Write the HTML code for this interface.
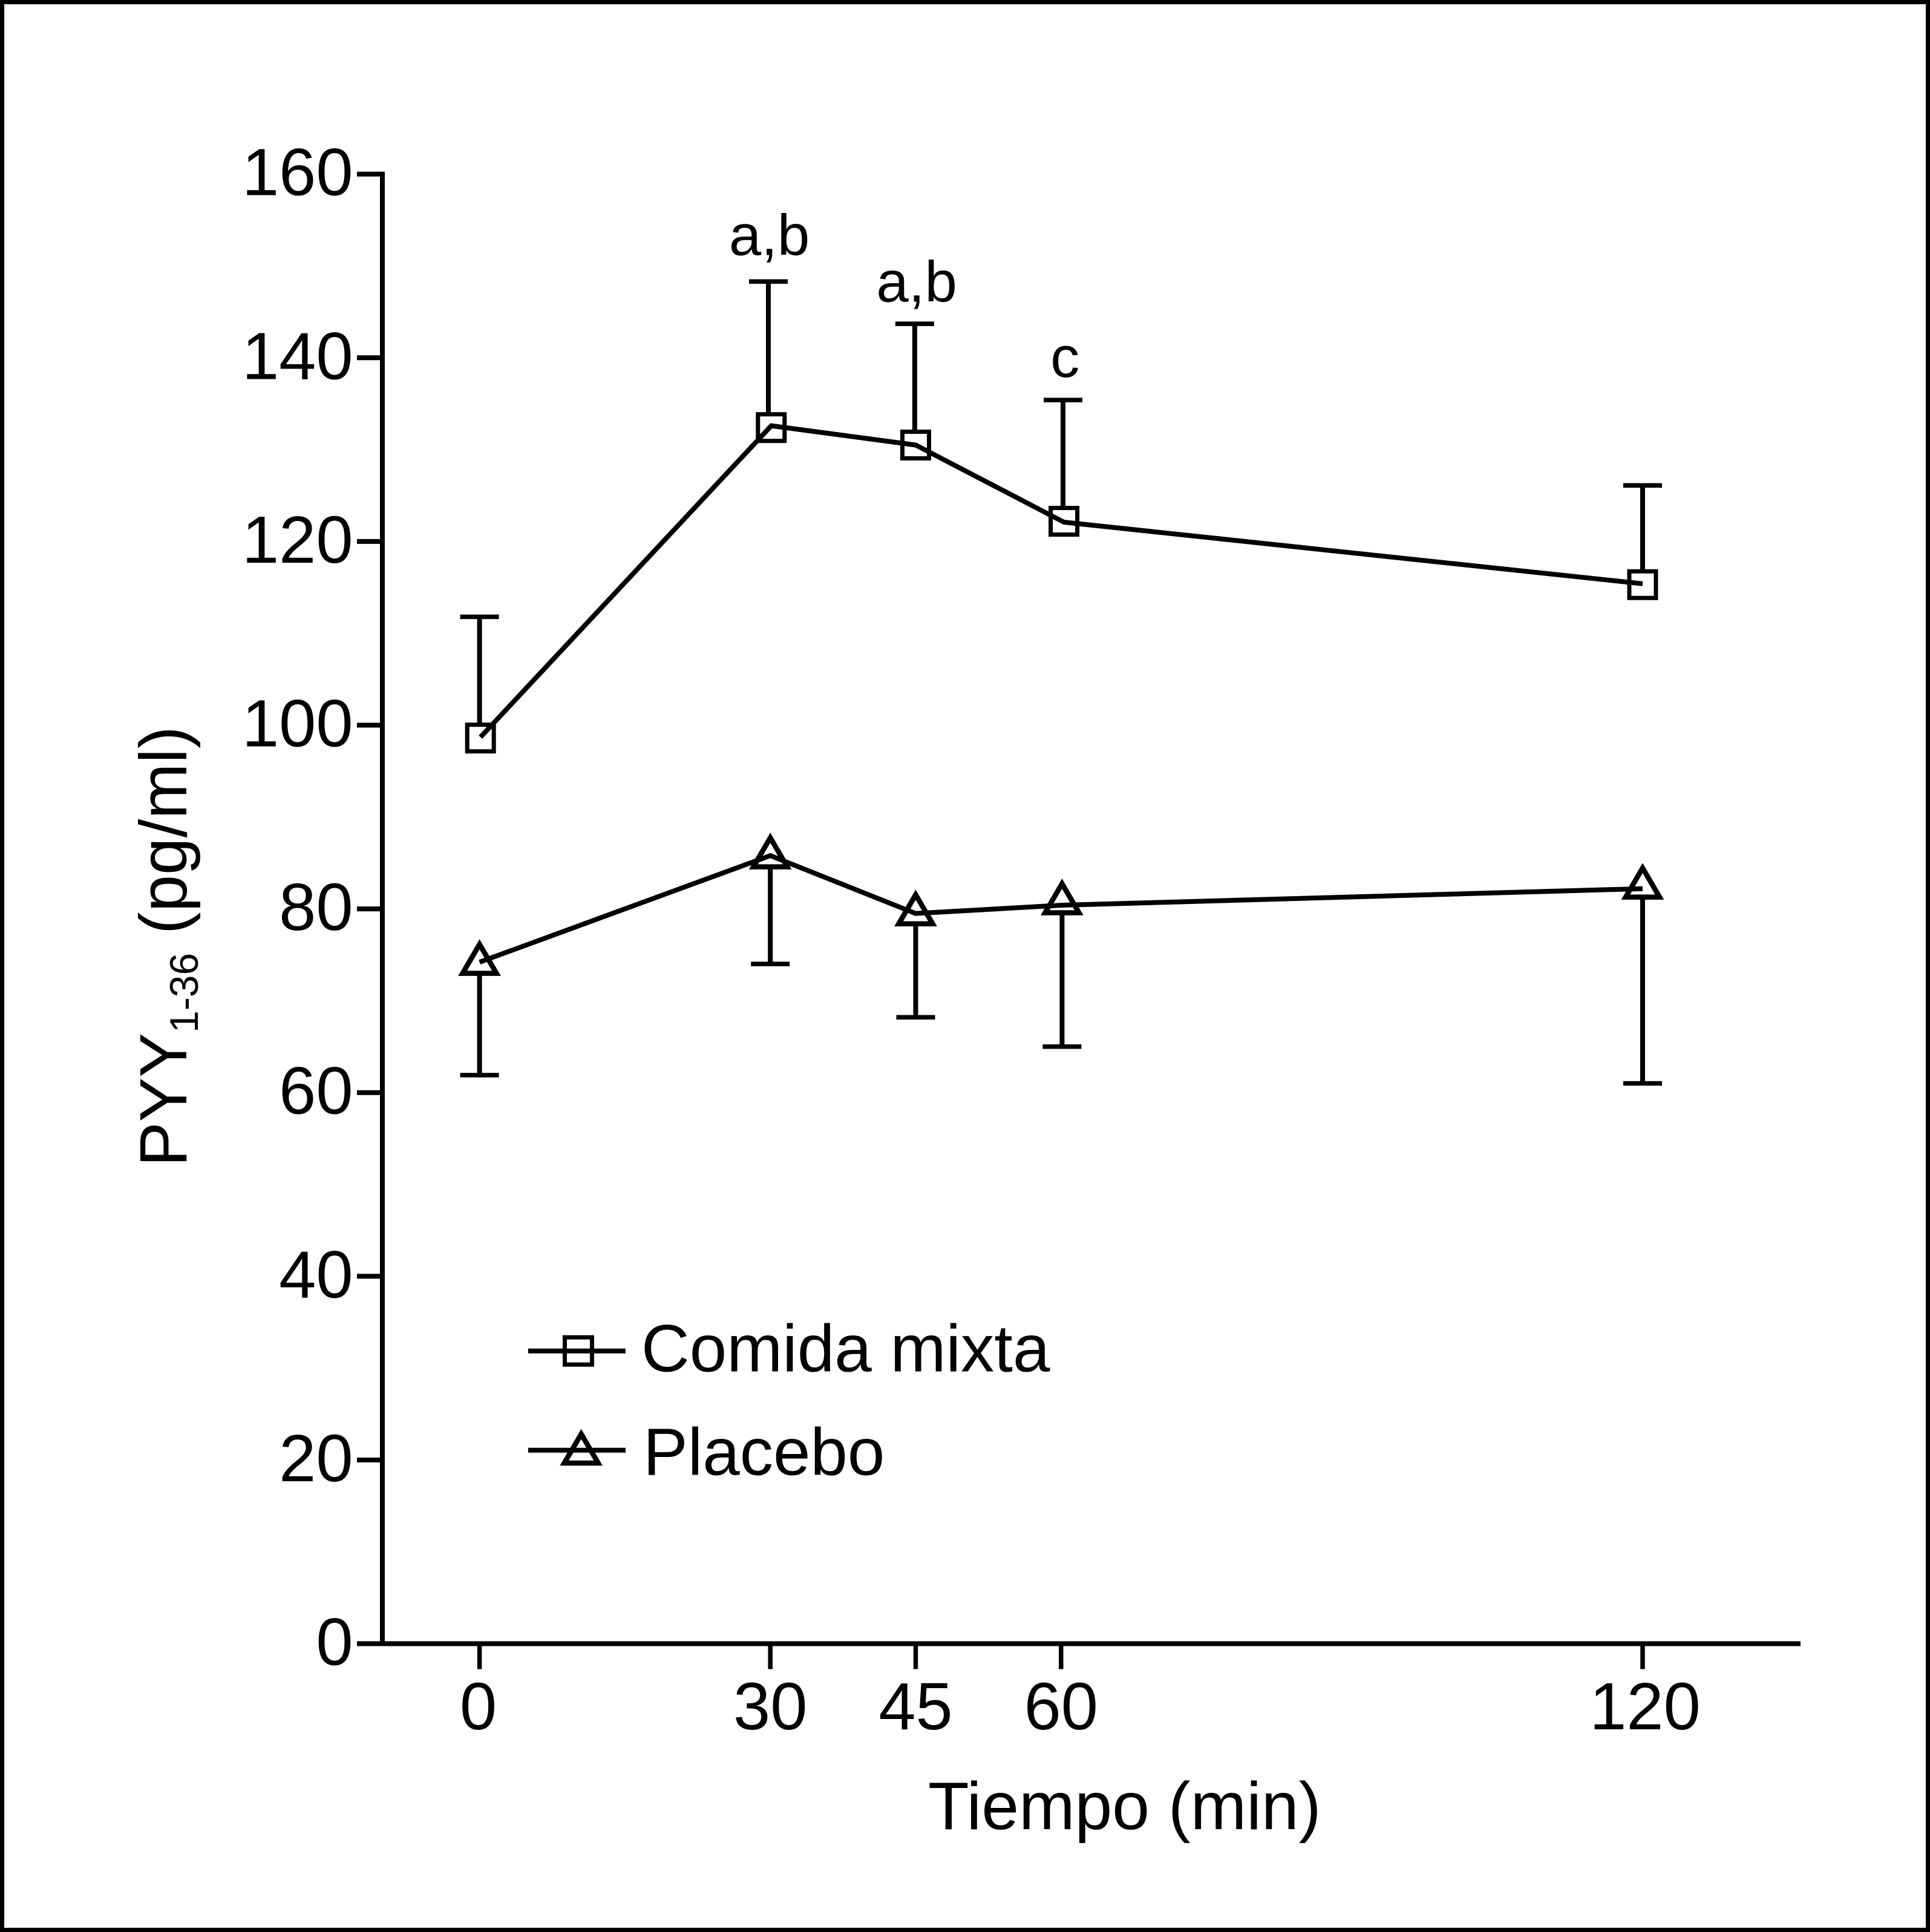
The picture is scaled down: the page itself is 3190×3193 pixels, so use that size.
<!DOCTYPE html>
<html lang="es">
<head>
<meta charset="utf-8">
<title>PYY 1-36 vs Tiempo</title>
<style>
  html, body { margin: 0; padding: 0; background: #fff; }
  svg { display: block; }
  text { font-family: "Liberation Sans", Arial, sans-serif; fill: #000; white-space: pre; }
</style>
</head>
<body>
<svg id="chart" xmlns="http://www.w3.org/2000/svg" width="3190" height="3193" viewBox="0 0 3190 3193">
  <rect x="0" y="0" width="3190" height="3193" fill="#fff"></rect>
  <rect x="3.5" y="3.5" width="3183" height="3186" fill="none" stroke="#000" stroke-width="7"></rect>
  <g id="axes"></g>
  <g id="series"></g>
  <g id="annotations"></g>
  <g id="legend"></g>
  <text x="1534" y="3023" font-size="111">Tiempo (min)</text>
  <text transform="translate(308,1928) rotate(-90)" font-size="110.5"><tspan>PYY</tspan><tspan font-size="66" dy="19">1-36</tspan><tspan dy="-19"> (pg/ml)</tspan></text>
</svg>
<script>
// Chart data
const yTickValues = [0, 20, 40, 60, 80, 100, 120, 140, 160];
const xTickValues = [0, 30, 45, 60, 120];
const comidaTimes = [0.1, 30.1, 45, 60.3, 120];
const comidaValues = [98.7, 132.6, 130.5, 122.1, 115.4];
const comidaMarkerValues = [98.6, 132.4, 130.5, 122.2, 115.3];
const comidaErrTimes = [0, 29.8, 44.9, 60.2, 120];
const comidaErrEnds = [111.8, 148.3, 143.7, 135.4, 126.1];
const placeboTimes = [0, 30, 45, 60.1, 120];
const placeboValues = [74.2, 85.8, 79.5, 80.4, 82.2];
const placeboMarkerValues = [74.1, 85.7, 79.5, 80.7, 82.4];
const placeboErrTimes = [0, 30, 45, 60.1, 120];
const placeboErrEnds = [61.9, 74.0, 68.2, 65.0, 61.0];
const annotationTimes = [29.9, 45.1, 60.4];
const annotationBaselines = [151.2, 146.1, 137.9];
const annotationLabels = ['a,b', 'a,b', 'c'];

const NS = 'http://www.w3.org/2000/svg';
const xScale = t => 792.6 + 16.02 * t;
const yScale = v => 2716.5 - 15.18 * v;

function make(tag, parent, props) {
  const el = document.createElementNS(NS, tag);
  for (const k in props) el.setAttribute(k, props[k]);
  parent.appendChild(el);
  return el;
}
function drawLine(parent, x1, y1, x2, y2, w) {
  return make('line', parent, { x1, y1, x2, y2, stroke: '#000', 'stroke-width': w });
}
function drawText(parent, x, y, size, anchor, str) {
  const el = make('text', parent, { x, y, 'font-size': size, 'text-anchor': anchor });
  el.textContent = str;
  return el;
}
function drawSquare(parent, cx, cy, outer) {
  const s = outer - 7;
  return make('rect', parent, { x: cx - s / 2, y: cy - s / 2, width: s, height: s, fill: '#fff', stroke: '#000', 'stroke-width': 7 });
}
function drawTriangle(parent, cx, cy) {
  const pts = [[cx, cy - 31], [cx + 28, cy + 17], [cx - 28, cy + 17]].map(p => p.join(',')).join(' ');
  return make('polygon', parent, { points: pts, fill: '#fff', stroke: '#000', 'stroke-width': 8.5, 'stroke-miterlimit': 10 });
}

// Axes
const axes = document.getElementById('axes');
const yAxisLine = drawLine(axes, 632, yScale(160) - 4, 632, yScale(0) + 4, 8);


const xAxisLine = drawLine(axes, 628, yScale(0), 2976, yScale(0), 8);



yTickValues.forEach(v => {
  const tick = drawLine(axes, 590, yScale(v), 632, yScale(v), 8);
  
  
  const label = drawText(axes, 583.5, yScale(v) + 35, 110, 'end', String(v));
  
  
});
xTickValues.forEach(t => {
  const tick = drawLine(axes, xScale(t), yScale(0), xScale(t), yScale(0) + 42, 7.5);
  
  
  const label = drawText(axes, xScale(t) + (t === 120 ? 4 : 0) - (t === 0 ? 2 : 0), 2858, 110, 'middle', String(t));
  
  
});

// Series
const seriesRoot = document.getElementById('series');
function drawSeries(name, times, values, markerValues, errTimes, errEnds, marker) {
  const group = make('g', seriesRoot, {});
  
  
  times.forEach((t, i) => {
    const ex = xScale(errTimes[i]);
    const stem = drawLine(group, ex, yScale(markerValues[i]), ex, yScale(errEnds[i]), 8);
    
    
    const cap = drawLine(group, ex - 32, yScale(errEnds[i]), ex + 32, yScale(errEnds[i]), 7.5);
    
    
  });
  times.forEach((t, i) => {
    const m = marker(group, xScale(t), yScale(markerValues[i]));
    
    
  });
  const pts = times.map((t, i) => xScale(t) + ',' + yScale(values[i])).join(' ');
  const line = make('polyline', group, { points: pts, fill: 'none', stroke: '#000', 'stroke-width': 8, 'stroke-linejoin': 'miter' });
  
  
}
drawSeries('comida-mixta', comidaTimes, comidaValues, comidaMarkerValues, comidaErrTimes, comidaErrEnds, (g, x, y) => drawSquare(g, x, y, 51));
drawSeries('placebo', placeboTimes, placeboValues, placeboMarkerValues, placeboErrTimes, placeboErrEnds, (g, x, y) => drawTriangle(g, x, y));

// Significance annotations
const annRoot = document.getElementById('annotations');
annotationLabels.forEach((s, i) => {
  const el = drawText(annRoot, xScale(annotationTimes[i]), yScale(annotationBaselines[i]), 96, 'middle', s);
  
  
});

// Legend
const legend = document.getElementById('legend');
const legLine1 = drawLine(legend, 873, 2232.7, 1034, 2232.7, 8);


const legMarker1 = drawSquare(legend, 956, 2232.7, 52);
legMarker1.setAttribute('fill', 'none');


const legText1 = drawText(legend, 1060, 2266.7, 110.5, 'start', 'Comida mixta');


const legMarker2 = drawTriangle(legend, 960.7, 2401);
legMarker2.setAttribute('fill', 'none');


const legLine2 = drawLine(legend, 873, 2396.7, 1034, 2396.7, 8);


const legText2 = drawText(legend, 1063, 2437.7, 110.5, 'start', 'Placebo');


</script>
</body>
</html>
